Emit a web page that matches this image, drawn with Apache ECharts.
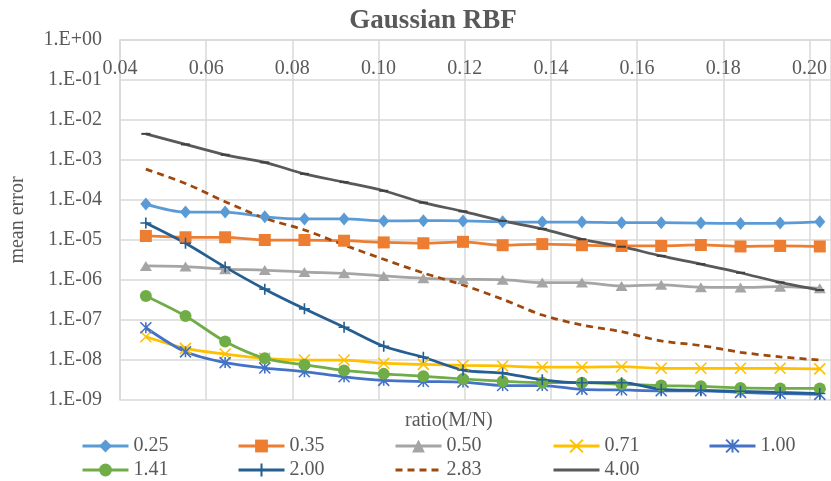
<!DOCTYPE html>
<html>
<head>
<meta charset="utf-8">
<script src="https://cdn.jsdelivr.net/npm/echarts@6/dist/echarts.min.js"></script>
<style>
  html, body { margin: 0; padding: 0; background: #fff; }
  #chart { width: 831px; height: 481px; }
</style>
</head>
<body>
<div id="chart"></div>
<script>
// ratio(M/N) sample points
const ratios = [0.0460, 0.0552, 0.0644, 0.0736, 0.0828, 0.0920, 0.1012, 0.1104, 0.1196,
  0.1288, 0.1380, 0.1472, 0.1564, 0.1656, 0.1748, 0.1840, 0.1932, 0.2024];

const s025 = [7.9e-5, 5.0e-5, 5.0e-5, 3.8e-5, 3.35e-5, 3.35e-5, 3.0e-5, 3.05e-5, 3.0e-5,
  2.85e-5, 2.8e-5, 2.8e-5, 2.7e-5, 2.7e-5, 2.65e-5, 2.6e-5, 2.65e-5, 2.85e-5];
const s035 = [1.26e-5, 1.17e-5, 1.17e-5, 1.0e-5, 1.0e-5, 9.6e-6, 8.7e-6, 8.3e-6, 9.0e-6,
  7.4e-6, 7.9e-6, 7.4e-6, 7.1e-6, 7.1e-6, 7.5e-6, 6.9e-6, 7.1e-6, 6.9e-6];
const s050 = [2.24e-6, 2.16e-6, 1.86e-6, 1.77e-6, 1.58e-6, 1.47e-6, 1.26e-6, 1.1e-6, 1.04e-6,
  1.02e-6, 8.6e-7, 8.6e-7, 7.1e-7, 7.6e-7, 6.6e-7, 6.5e-7, 6.8e-7, 6.2e-7];
const s071 = [3.8e-8, 1.95e-8, 1.41e-8, 1.1e-8, 1.0e-8, 1.0e-8, 8.3e-9, 7.8e-9, 7.3e-9,
  7.1e-9, 6.6e-9, 6.6e-9, 6.8e-9, 6.2e-9, 6.2e-9, 6.2e-9, 6.2e-9, 6.0e-9];
const s100 = [6.4e-8, 1.6e-8, 8.6e-9, 6.3e-9, 5.1e-9, 3.8e-9, 3.1e-9, 2.9e-9, 2.8e-9,
  2.3e-9, 2.3e-9, 1.85e-9, 1.78e-9, 1.7e-9, 1.7e-9, 1.55e-9, 1.45e-9, 1.38e-9];
const s141 = [4.0e-7, 1.26e-7, 2.9e-8, 1.1e-8, 7.6e-9, 5.5e-9, 4.5e-9, 3.9e-9, 3.35e-9,
  2.95e-9, 2.7e-9, 2.7e-9, 2.46e-9, 2.3e-9, 2.2e-9, 2.0e-9, 1.95e-9, 1.95e-9];
const s200 = [2.66e-5, 8.3e-6, 2.1e-6, 5.9e-7, 1.9e-7, 6.6e-8, 2.2e-8, 1.17e-8, 5.6e-9,
  4.7e-9, 3.2e-9, 2.7e-9, 2.7e-9, 1.85e-9, 1.75e-9, 1.65e-9, 1.55e-9, 1.45e-9];
const s283 = [5.9e-4, 2.6e-4, 9.1e-5, 3.5e-5, 1.78e-5, 7.5e-6, 3.3e-6, 1.5e-6, 7.5e-7,
  3.3e-7, 1.33e-7, 7.5e-8, 5.1e-8, 3.0e-8, 2.3e-8, 1.56e-8, 1.2e-8, 1.0e-8];
const s400 = [4.5e-3, 2.45e-3, 1.35e-3, 8.7e-4, 4.5e-4, 2.8e-4, 1.7e-4, 8.6e-5, 5.2e-5,
  3.0e-5, 1.9e-5, 1.04e-5, 6.8e-6, 4.0e-6, 2.5e-6, 1.52e-6, 8.7e-7, 5.6e-7];

const seriesNames = ['0.25', '0.35', '0.50', '0.71', '1.00', '1.41', '2.00', '2.83', '4.00'];
const yTickLabels = ['1.E-09', '1.E-08', '1.E-07', '1.E-06', '1.E-05', '1.E-04', '1.E-03', '1.E-02', '1.E-01', '1.E+00'];

const serif = '"Liberation Serif", "Times New Roman", serif';
const txt = '#595959';

const pts = (vals) => vals.map((v, i) => [ratios[i], v]);

function line(name, vals, color, symbol, size, extra) {
  return Object.assign({
    name: name,
    type: 'line',
    data: pts(vals),
    smooth: 0.3,
    symbol: symbol,
    symbolSize: size,
    showSymbol: symbol !== 'none',
    lineStyle: {color: color, width: 2.75},
    itemStyle: {color: color},
    emphasis: {disabled: true}
  }, extra || {});
}

const crossStyle = (c) => ({color: c, borderColor: c, borderWidth: 1.6});

// legend entries that show only the line (no marker)
const lineOnly = ['2.83', '4.00'];
const legendItem = (n) => lineOnly.includes(n) ? {name: n, itemStyle: {opacity: 0}} : {name: n};

const chart = echarts.init(document.getElementById('chart'), null, {renderer: 'canvas'});
chart.setOption({
  animation: false,
  textStyle: {fontFamily: serif},
  title: {
    text: 'Gaussian RBF',
    left: 428,
    textAlign: 'center',
    top: 3,
    textStyle: {fontFamily: serif, fontSize: 27, fontWeight: 'bold', color: txt}
  },
  grid: {left: 117, right: 0, top: 40, bottom: 81, containLabel: false},
  xAxis: {
    type: 'value',
    position: 'top',
    min: 0.04,
    max: 0.205,
    interval: 0.02,
    axisLine: {show: true, lineStyle: {color: '#d9d9d9', width: 1.5}},
    axisTick: {show: false},
    axisLabel: {
      inside: true,
      margin: 19,
      showMaxLabel: false,
      color: txt,
      fontFamily: serif,
      fontSize: 20,
      formatter: (v) => v.toFixed(2)
    },
    splitLine: {show: true, lineStyle: {color: '#d9d9d9', width: 1.5}}
  },
  yAxis: {
    type: 'log',
    logBase: 10,
    min: 1e-9,
    max: 1,
    name: 'mean error',
    nameLocation: 'middle',
    nameGap: 92,
    nameRotate: 90,
    nameTextStyle: {fontFamily: serif, fontSize: 20, color: txt},
    axisLine: {show: true, lineStyle: {color: '#d9d9d9', width: 1.5}},
    axisTick: {show: false},
    axisLabel: {
      margin: 18,
      color: txt,
      fontFamily: serif,
      fontSize: 20,
      formatter: (v) => yTickLabels[Math.round(Math.log10(v)) + 9]
    },
    splitLine: {show: true, lineStyle: {color: '#d9d9d9', width: 1.5}}
  },
  graphic: [{
    type: 'text',
    left: 405,
    top: 411,
    style: {text: 'ratio(M/N)', font: '20px ' + serif, fill: txt}
  }],
  legend: [
    [seriesNames[0], seriesNames[5], 81],
    [seriesNames[1], seriesNames[6], 237],
    [seriesNames[2], seriesNames[7], 394],
    [seriesNames[3], seriesNames[8], 552],
    [seriesNames[4], null, 708]
  ].map((c) => ({
    data: (c[1] ? [c[0], c[1]] : [c[0]]).map(legendItem),
    orient: 'vertical',
    left: c[2],
    top: 436,
    padding: 0,
    itemGap: 4,
    itemWidth: 46,
    itemHeight: 16,
    lineStyle: {width: 3},
    selectedMode: false,
    textStyle: {fontFamily: serif, fontSize: 20, color: txt, padding: [0, 0, 0, 0]}
  })),
  series: [
    line(seriesNames[0], s025, '#5B9BD5', 'diamond', [11, 13]),
    line(seriesNames[1], s035, '#ED7D31', 'rect', 12),
    line(seriesNames[2], s050, '#A5A5A5', 'triangle', [12, 10]),
    line(seriesNames[3], s071, '#FFC000', 'path://M0,0L10,10M10,0L0,10', 11,
      {itemStyle: crossStyle('#FFC000')}),
    line(seriesNames[4], s100, '#4472C4', 'path://M0,0L10,10M10,0L0,10M5,0L5,10', 11,
      {itemStyle: crossStyle('#4472C4')}),
    line(seriesNames[5], s141, '#70AD47', 'circle', 12),
    line(seriesNames[6], s200, '#255E91', 'path://M5,0L5,10M0,5L10,5', 11,
      {itemStyle: crossStyle('#255E91')}),
    line(seriesNames[7], s283, '#9E480E', 'none', 0,
      {lineStyle: {color: '#9E480E', width: 2.75, type: [7, 5]}}),
    line(seriesNames[8], s400, '#595959', 'rect', [9, 2],
      {itemStyle: {color: '#404040'}})
  ]
});
</script>
</body>
</html>
